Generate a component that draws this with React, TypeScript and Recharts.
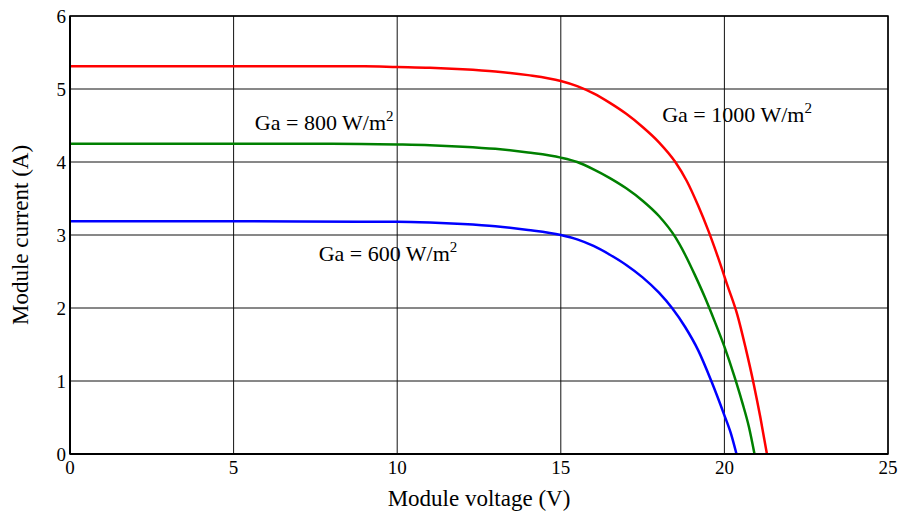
import React from 'react'
import {
  LineChart,
  Line,
  XAxis,
  YAxis,
  CartesianGrid,
  ReferenceArea,
  ReferenceDot,
} from 'recharts'

// I-V curves of the PV module at three irradiance levels
const VOLT_1000 = [0, 5, 9, 10, 11, 12, 13, 14, 15, 15.5, 16, 16.5, 17, 17.5, 18, 18.5, 18.85, 19.2, 19.5, 19.8, 20.1, 20.4, 20.65, 20.9, 21.1, 21.3]
const CURR_1000 = [5.31, 5.31, 5.31, 5.3, 5.29, 5.27, 5.24, 5.19, 5.11, 5.04, 4.94, 4.81, 4.66, 4.48, 4.27, 4.0, 3.74, 3.4, 3.07, 2.7, 2.3, 1.9, 1.45, 0.95, 0.5, 0]

const VOLT_800 = [0, 5, 8, 10, 11, 12, 13, 14, 15, 15.5, 16, 16.5, 17, 17.5, 18, 18.5, 18.8, 19.1, 19.4, 19.7, 20.0, 20.3, 20.55, 20.75, 20.92]
const CURR_800 = [4.25, 4.25, 4.25, 4.24, 4.23, 4.21, 4.18, 4.13, 4.06, 4.0, 3.9, 3.78, 3.64, 3.47, 3.26, 2.97, 2.73, 2.45, 2.15, 1.82, 1.47, 1.07, 0.7, 0.37, 0]

const VOLT_600 = [0, 5, 9, 10, 11, 12, 13, 14, 15, 15.5, 16, 16.5, 17, 17.5, 18, 18.4, 18.8, 19.2, 19.6, 20.0, 20.2, 20.37]
const CURR_600 = [3.19, 3.19, 3.18, 3.18, 3.17, 3.15, 3.12, 3.07, 3.0, 2.94, 2.85, 2.73, 2.59, 2.42, 2.21, 2.0, 1.74, 1.42, 1.0, 0.53, 0.28, 0]

const X_TICKS = [0, 5, 10, 15, 20, 25]
const Y_TICKS = [0, 1, 2, 3, 4, 5, 6]

// label anchors: [voltage, current, irradiance text]
const LABELS: [number, number, string][] = [
  [18.1, 4.55, '1000'],
  [5.65, 4.44, '800'],
  [7.6, 2.64, '600'],
]

const toPoints = (v: number[], i: number[]) => v.map((x, k) => ({ v: x, i: i[k] }))

const SERIES = [
  { name: '1000', color: '#ff0000', data: toPoints(VOLT_1000, CURR_1000) },
  { name: '800', color: '#008000', data: toPoints(VOLT_800, CURR_800) },
  { name: '600', color: '#0000ff', data: toPoints(VOLT_600, CURR_600) },
]

const FONT = '"Liberation Serif", "Times New Roman", serif'

const GaText = ({ cx, cy, text }: { cx?: number; cy?: number; text: string }) => (
  <text x={cx} y={cy} fontFamily={FONT} fontSize={22} fill="#000">
    {`Ga = ${text} W/m`}
    <tspan dy={-9} fontSize={15}>2</tspan>
  </text>
)

export default function App() {
  return (
    <div style={{ position: 'absolute', left: 0, top: 0, background: '#fff' }}>
      <LineChart
        width={903}
        height={516}
        margin={{ top: 16, right: 15, bottom: 0, left: 0 }}
      >
        <CartesianGrid stroke="#111" strokeWidth={1} />
        <XAxis
          type="number"
          dataKey="v"
          domain={[0, 25]}
          ticks={X_TICKS}
          height={62}
          tickSize={0}
          tickMargin={7}
          axisLine={{ stroke: '#000', strokeWidth: 2 }}
          tick={{ fill: '#000', fontSize: 19, fontFamily: FONT }}
          label={{
            value: 'Module voltage (V)',
            position: 'insideBottom',
            offset: 10,
            style: { fill: '#000', fontSize: 23, fontFamily: FONT },
          }}
        />
        <YAxis
          type="number"
          domain={[0, 6]}
          ticks={Y_TICKS}
          width={70}
          tickSize={0}
          tickMargin={4}
          axisLine={{ stroke: '#000', strokeWidth: 2 }}
          tick={{ fill: '#000', fontSize: 19, fontFamily: FONT }}
          label={{
            value: 'Module current (A)',
            angle: -90,
            position: 'insideLeft',
            offset: 20,
            style: { fill: '#000', fontSize: 23, fontFamily: FONT, textAnchor: 'middle' },
          }}
        />
        <ReferenceArea
          x1={0}
          x2={25}
          y1={0}
          y2={6}
          fill="none"
          stroke="#000"
          strokeWidth={1.5}
          ifOverflow="visible"
        />
        {SERIES.map((s) => (
          <Line
            key={s.name}
            data={s.data}
            dataKey="i"
            type="monotone"
            stroke={s.color}
            strokeWidth={2.5}
            dot={false}
            isAnimationActive={false}
          />
        ))}
        {LABELS.map(([v, i, t]) => (
          <ReferenceDot
            key={t}
            x={v}
            y={i}
            r={0}
            shape={(p: { cx?: number; cy?: number }) => <GaText cx={p.cx} cy={p.cy} text={t} />}
          />
        ))}
      </LineChart>
    </div>
  )
}
